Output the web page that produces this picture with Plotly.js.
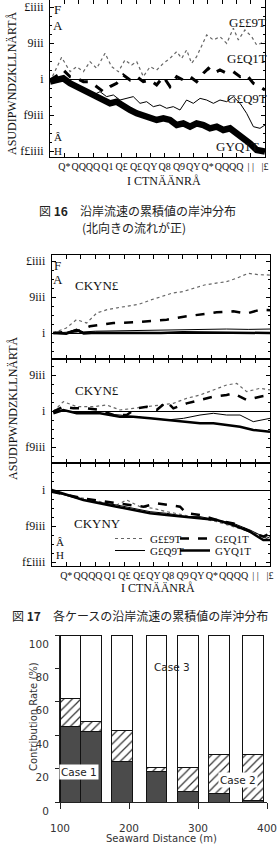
<!DOCTYPE html>
<html><head><meta charset="utf-8">
<script src="https://cdn.plot.ly/plotly-3.0.1.min.js"></script>
<style>html,body{margin:0;padding:0;background:#fff;} #chart{width:279px;height:852px;}</style>
</head><body><div id="chart"></div>
<script>
// ---------- Figure 16 data ----------
const f16DotX = [0,8.1,14.0,18.6,23.3,27.9,32.6,38.4,43.0,47.7,52.3,57.0,60.5,65.1,69.8,74.4,79.1,83.7,88.4,91.9,95.3,98.8,102.3,105.8,109.3,114.0,118.6,123.3,127.9,131.4,136.0,140.7,144.2,150];
const f16DotY = [-370,3010,1020,1710,1020,2410,1480,3570,1710,1020,2640,1940,2410,320,1710,1250,2180,2870,3800,2870,4030,2180,3100,4490,6110,5420,5880,4950,7040,5420,6810,5880,4720,5190];
const f16DashX = [0,5.8,9.3,14.0,18.6,23.3,27.9,32.6,37.2,41.9,46.5,51.2,55.8,60.5,65.1,69.8,74.4,79.1,83.7,88.4,93.0,97.7,102.3,107.0,110.5,114.0,118.6,123.3,127.9,132.6,137.2,141.9,146.5,150];
const f16DashY = [-140,560,1250,320,90,-370,-370,-1060,-1760,-1060,-600,560,-140,320,-370,-140,-830,320,-1060,320,-140,320,-370,790,1480,790,1250,790,1020,320,560,-600,-1060,-1530];
const f16ThinX = [0,5.8,11.6,16.3,20.9,25.6,30.2,34.9,39.5,44.2,48.8,53.5,58.1,62.8,67.4,72.1,76.7,81.4,86.0,90.7,95.3,100,104.7,109.3,114,118.6,123.3,127.9,132.6,137.2,141.9,146.5,150];
const f16ThinY = [-370,-140,-370,-600,-1060,-1530,-2220,-1760,-2450,-2220,-2920,-2690,-2450,-3380,-3150,-3840,-3610,-4070,-3840,-4310,-2920,-3380,-2690,-2920,-3380,-2920,-3150,-2450,-3380,-4770,-6620,-6850,-6390];
const f16ThickX = [0,5.8,9.3,14,18.6,23.3,27.9,32.6,37.2,41.9,46.5,51.2,55.8,60.5,65.1,69.8,74.4,79.1,83.7,88.4,93,97.7,102.3,107,111.6,116.3,120.9,125.6,130.2,134.9,139.5,144.2,150];
const f16ThickY = [-370,-140,90,-600,-1060,-1530,-2220,-2690,-2920,-3380,-3150,-3840,-4310,-4770,-5000,-5230,-5690,-5460,-5690,-6390,-6160,-6620,-6160,-6390,-6850,-6620,-7080,-6850,-7550,-8010,-8940,-9860,-10090];

// ---------- Figure 17 data (three panels) ----------
const p1DotX = [1,10,17,24,31,38,45,52,60,68,75,83,90,97,105,112,120,127,135,142,150];
const p1DotY = [0,690,1850,1390,2780,3240,3500,3700,4000,4580,5040,5550,5740,6200,6670,6900,7125,7600,8290,8100,8050];
const p1DashX = [1.1,17.2,26.3,33.2,42.4,56.1,67.6,79,92.7,101.9,113.4,124.8,134,143.1,150];
const p1DashY = [0,230,930,1160,1390,1480,1620,1850,2320,2550,2870,3010,2690,3240,3150];
const p1ThinX = [1,10,17,22,30,45,60,75,90,105,120,135,150];
const p1ThinY = [0,100,500,150,250,300,350,450,400,500,550,500,550];
const p1ThickX = [1,10,17,22,30,45,60,75,90,105,120,135,150];
const p1ThickY = [0,-100,450,-50,50,0,50,0,100,50,0,50,0];

const p2DotX = [1.1,8,17.2,28.6,37.8,46.9,56.1,65.3,74.4,83.6,92.7,101.9,111.1,120.2,127.1,134,143.1,150];
const p2DotY = [-90,1300,600,600,830,140,370,600,830,1060,1760,2220,2920,3610,3840,2690,3150,2920];
const p2DashX = [1.1,8,14.9,24,33.2,42.4,51.5,58.4,65.3,72.1,79,83.6,92.7,101.9,111.1,120.2,124.8,134,143.1,150];
const p2DashY = [-90,600,370,370,140,-560,-560,370,600,140,1300,370,1060,1530,1990,2220,2450,1530,1990,2220];
const p2ThinX = [1.1,8,17.2,33.2,46.9,56.1,67.6,79,90.5,101.9,111.1,120.2,129.4,138.5,150];
const p2ThinY = [-90,140,-320,-320,-560,-790,-1020,-1250,-1020,-560,-320,-560,-560,-1480,-1020];
const p2ThickX = [1.1,8,17.2,33.2,46.9,56.1,67.6,79,90.5,101.9,111.1,120.2,129.4,138.5,150];
const p2ThickY = [-320,140,-320,-320,-790,-790,-1020,-1250,-1480,-1710,-1710,-1940,-2180,-2640,-2870];

const p3DotX = [0,10.3,21.8,33.2,44.7,51.5,60.7,69.8,79,90.5,101.9,113.4,124.8,136.3,145.4,147.7,150];
const p3DotY = [-230,-690,-1160,-1620,-2080,-1390,-2320,-2550,-3010,-3470,-3940,-4400,-5090,-5790,-6250,-6480,-5790];
const p3DashX = [0,21.8,44.7,56.1,63,72.1,79,88.2,92.7,101.9,113.4,124.8,136.3,145.4,150];
const p3DashY = [-230,-1160,-1850,-2080,-2320,-1850,-2080,-2320,-3240,-3470,-4170,-4630,-5790,-6480,-6020];
const p3ThinX = [0,21.8,44.7,67.6,79,92.7,101.9,113.4,124.8,136.3,147.7,150];
const p3ThinY = [-230,-1390,-2080,-3010,-3240,-3700,-3700,-4170,-4630,-5560,-6710,-6480];
const p3ThickX = [0,21.8,44.7,56.1,67.6,79,90.5,101.9,113.4,124.8,136.3,145.4,150];
const p3ThickY = [0,-1390,-2320,-2780,-3240,-3470,-3700,-3940,-4170,-4860,-5790,-6940,-6940];

const seriesNames = ['G££9T','G£Q1T','G£Q9T','GYQ1T'];

// ---------- shared tick labels ----------
const xTickVals = [0,10,20,30,40,50,60,70,80,90,100,110,120,130,140,150];
const xTickText = ['','Q*','QQ','QQ','Q1','Q£','Q£','QY','Q8','Q9','QY','Q*','QQ','QQ','| |','|£'];
const yTickVals = [-10000,-5000,0,5000,10000];
const yTickText = ['f£iiii','f9iii','i','9iii','£iiii'];

// ---------- Figure 18 data ----------
const barX = [115,145,190,240,285,330,380];
const case1 = [45.5,42,24.5,18,6.5,5,1];
const case2 = [16.5,6,18.5,2.5,14,23.5,27.5];
const case3 = [38,52,57,79.5,79.5,71.5,71.5];
const barTicks = [100,200,300,400];
const rateTicks = [0,20,40,60,80,100];

// ---------- helpers ----------
const W = 279, H = 852;
const fx = p => p / W;
const fy = p => 1 - p / H;
const serif = 'Liberation Serif, DejaVu Serif, serif';
const sans = 'DejaVu Sans, Liberation Sans, sans-serif';
const cjk = 'Noto Sans CJK JP, sans-serif';

const styles16 = [
  {color:'#666', width:1.2, dash:'dot'},
  {color:'#000', width:3, dash:'dash'},
  {color:'#000', width:1, dash:'solid'},
  {color:'#000', width:6.5, dash:'solid'}
];
const styles17 = [
  {color:'#666', width:1.2, dash:'dot'},
  {color:'#000', width:2.5, dash:'dash'},
  {color:'#000', width:1, dash:'solid'},
  {color:'#000', width:2.5, dash:'solid'}
];
const legendIds = ['legend','legend2','legend3','legend4'];

function line(x, y, st, xa, ya, opts) {
  return Object.assign({type:'scatter', mode:'lines', x:x, y:y, line:st, xaxis:xa, yaxis:ya,
    showlegend:false, hoverinfo:'skip'}, opts || {});
}

const traces = [];
const f16 = [[f16DotX,f16DotY],[f16DashX,f16DashY],[f16ThinX,f16ThinY],[f16ThickX,f16ThickY]];
f16.forEach((d,i) => traces.push(line(d[0], d[1], styles16[i], 'x', 'y')));
const p1 = [[p1DotX,p1DotY],[p1DashX,p1DashY],[p1ThinX,p1ThinY],[p1ThickX,p1ThickY]];
p1.forEach((d,i) => traces.push(line(d[0], d[1], styles17[i], 'x2', 'y2')));
const p2 = [[p2DotX,p2DotY],[p2DashX,p2DashY],[p2ThinX,p2ThinY],[p2ThickX,p2ThickY]];
p2.forEach((d,i) => traces.push(line(d[0], d[1], styles17[i], 'x3', 'y3')));
const p3 = [[p3DotX,p3DotY],[p3DashX,p3DashY],[p3ThinX,p3ThinY],[p3ThickX,p3ThickY]];
p3.forEach((d,i) => traces.push(line(d[0], d[1], styles17[i], 'x4', 'y4',
  {showlegend:true, name:seriesNames[i], legend:legendIds[i]})));

traces.push({type:'bar', x:barX, y:case1, width:30, xaxis:'x5', yaxis:'y5', showlegend:false,
  marker:{color:'#4b4b4b', line:{color:'#111', width:1}}, hoverinfo:'skip'});
traces.push({type:'bar', x:barX, y:case2, width:30, xaxis:'x5', yaxis:'y5', showlegend:false,
  marker:{color:'#fff', line:{color:'#111', width:1},
    pattern:{shape:'/', fgcolor:'#333', bgcolor:'#fff', size:6, solidity:0.2}}, hoverinfo:'skip'});
traces.push({type:'bar', x:barX, y:case3, width:30, xaxis:'x5', yaxis:'y5', showlegend:false,
  marker:{color:'#fff', line:{color:'#111', width:1}}, hoverinfo:'skip'});

function lineX(domain, anchor, labels) {
  return {domain:domain, anchor:anchor, range:[0,150], showgrid:false, zeroline:false,
    showline:true, linecolor:'#000', linewidth:1, mirror:'allticks',
    ticks:'inside', ticklen:4, tickcolor:'#000', tickmode:'array', tickvals:xTickVals,
    ticktext:xTickText, showticklabels:labels, tickangle:0,
    tickfont:{family:serif, size:10, color:'#111'}};
}
function lineY(domain, anchor, range) {
  return {domain:domain, anchor:anchor, range:range, showgrid:false,
    zeroline:true, zerolinecolor:'#000', zerolinewidth:1,
    showline:true, linecolor:'#000', linewidth:1, mirror:'allticks',
    ticks:'inside', ticklen:4, tickcolor:'#000', tickmode:'array', tickvals:yTickVals,
    ticktext:yTickText, tickfont:{family:serif, size:12, color:'#111'}, ticklabelstandoff:3,
    minor:{tickmode:'linear', tick0:0, dtick:1250, ticks:'inside', ticklen:2, tickcolor:'#000'}};
}

const ann = [];
function txt(t, x, y, o) {
  ann.push(Object.assign({text:t, x:fx(x), y:fy(y), xref:'paper', yref:'paper', showarrow:false,
    xanchor:'center', yanchor:'middle', font:{family:serif, size:13, color:'#111'}}, o || {}));
}
const small = {font:{family:serif, size:11, color:'#111'}};
// Figure 16 texts
txt('F', 57, 10); txt('A', 58, 25);
txt('Â', 58, 137, small); txt('H', 58, 151, small);
txt('G££9T', 247, 22); txt('G£Q1T', 247, 59); txt('G£Q9T', 247, 98); txt('GYQ1T', 238, 146);
txt('ASUDIPWNDZKLLNÄRTÅ', 12, 83, {textangle:-90, font:{family:serif, size:12, color:'#111'}});
txt('I CTNÄÄNRÅ', 164, 181, {font:{family:serif, size:12, color:'#111'}});
txt('図 <b>16</b>　沿岸流速の累積値の岸沖分布', 137, 210, {font:{family:cjk, size:12, color:'#222'}});
txt('(北向きの流れが正)', 134, 228, {font:{family:cjk, size:12, color:'#222'}});
// Figure 17 texts
txt('F', 57, 266); txt('A', 58, 279);
txt('CKYN£', 97, 285); txt('CKYN£', 97, 390); txt('CKYNY', 97, 523);
txt('Â', 60, 542, small); txt('H', 60, 555, small);
txt('ASUDIPWNDZKLLNÄRTÅ', 13, 408, {textangle:-90, font:{family:serif, size:12, color:'#111'}});
txt('I CTNÄÄNRÅ', 158, 588, {font:{family:serif, size:12, color:'#111'}});
txt('図 <b>17</b>　各ケースの沿岸流速の累積値の岸沖分布', 140, 615, {font:{family:cjk, size:12, color:'#222'}});
// Figure 18 texts
const sf = {family:sans, size:10.5, color:'#222'};
txt('Case 3', 172, 667, {font:sf});
txt('Case 1', 79, 772, {font:sf, bgcolor:'#fff'});
txt('Case 2', 238, 780, {font:sf, bgcolor:'#fff'});
txt('Contribution Rate (%)', 33, 717, {textangle:-90, font:{family:sans, size:10, color:'#333'}});
txt('Seaward Distance (m)', 161, 838, {font:{family:sans, size:10, color:'#333'}});
txt('図 18　各ケースの寄与率の岸沖分布', 150, 849, {yanchor:'top', font:{family:cjk, size:12, color:'#222'}});

const legFont = {family:serif, size:11, color:'#111'};
function leg(xp, yp) {
  return {orientation:'h', x:fx(xp), y:fy(yp), xanchor:'left', yanchor:'top',
    bgcolor:'rgba(0,0,0,0)', borderwidth:0, font:legFont, itemwidth:30, tracegroupgap:0};
}
const layout = {
  width:W, height:H, margin:{l:0, r:0, t:0, b:0}, paper_bgcolor:'#fff', plot_bgcolor:'#fff',
  barmode:'stack', bargap:0,
  xaxis: lineX([fx(50), fx(265)], 'y', true),
  yaxis: lineY([fy(157), fy(0)], 'x', [-10833, 10972]),
  xaxis2: lineX([fx(51.7), fx(270)], 'y2', false),
  yaxis2: lineY([fy(359), fy(255)], 'x2', [-3611, 10833]),
  xaxis3: lineX([fx(51.7), fx(270)], 'y3', false),
  yaxis3: lineY([fy(463), fy(359)], 'x3', [-7222, 7222]),
  xaxis4: lineX([fx(51.7), fx(270)], 'y4', true),
  yaxis4: lineY([fy(566), fy(463)], 'x4', [-10556, 3750]),
  xaxis5: {domain:[fx(60), fx(267)], anchor:'y5', range:[100,400], showgrid:false, zeroline:false,
    showline:true, linecolor:'#222', linewidth:1, ticks:'outside', ticklen:6, tickcolor:'#222',
    tickmode:'array', tickvals:barTicks, tickfont:{family:sans, size:10.5, color:'#333'},
    ticklabelstandoff:10},
  yaxis5: {domain:[fy(802), fy(635)], anchor:'x5', range:[0,100], showgrid:false, zeroline:false,
    showline:true, linecolor:'#222', linewidth:1, ticks:'outside', ticklen:4, tickcolor:'#222',
    tickmode:'array', tickvals:rateTicks, tickfont:{family:sans, size:10.5, color:'#333'},
    ticklabelshift:9, ticklabelstandoff:4},
  legend: leg(110, 524),
  legend2: leg(175, 524),
  legend3: leg(110, 536),
  legend4: leg(175, 536),
  annotations: ann,
  showlegend: true
};

Plotly.newPlot('chart', traces, layout, {staticPlot:true, displayModeBar:false});
</script></body></html>
